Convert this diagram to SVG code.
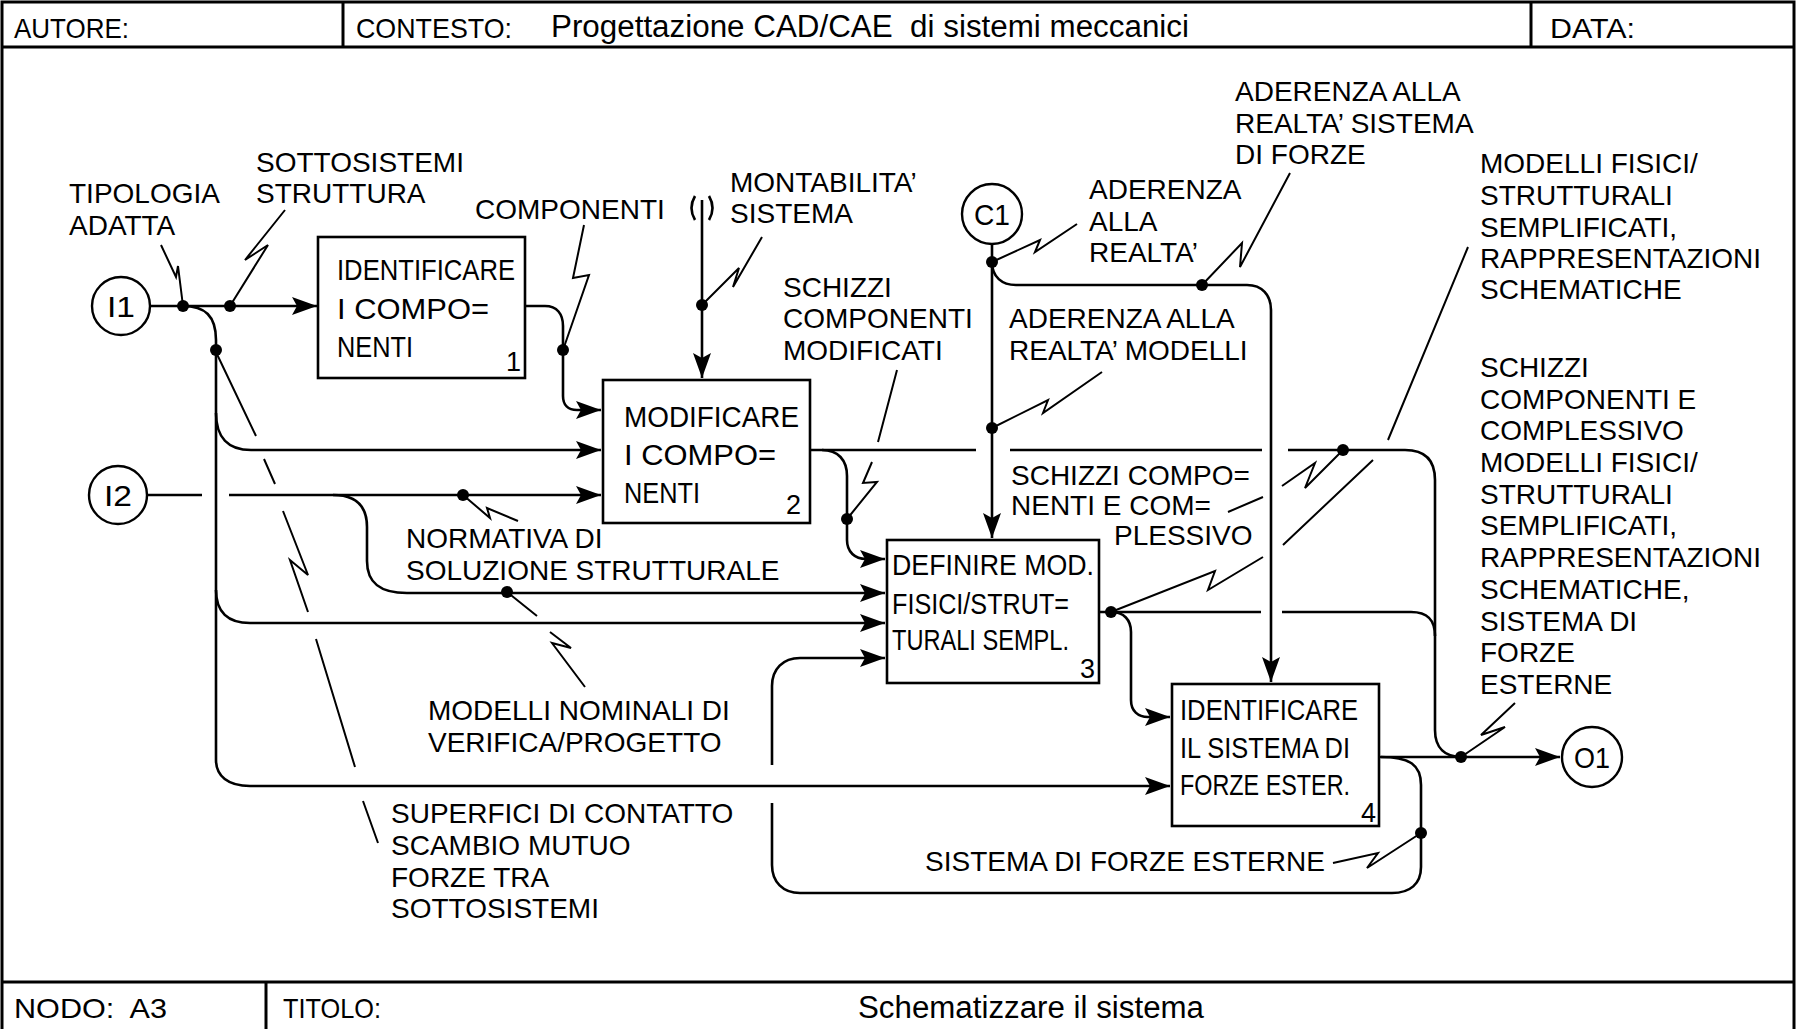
<svg xmlns="http://www.w3.org/2000/svg" width="1798" height="1029" viewBox="0 0 1798 1029">
<style>
.frame{fill:none;stroke:#000;stroke-width:3}
.box{fill:#fff;stroke:#000;stroke-width:2.6}
.bt{font-family:"Liberation Sans",Arial,sans-serif;font-size:29px;fill:#000}
.num{font-family:"Liberation Sans",Arial,sans-serif;font-size:27px;fill:#000}
.lbl{font-family:"Liberation Sans",Arial,sans-serif;font-size:28px;fill:#000}
.hd{font-family:"Liberation Sans",Arial,sans-serif;font-size:28px;fill:#000}
.big{font-family:"Liberation Sans",Arial,sans-serif;font-size:31px;fill:#000}
.ref{font-family:"Liberation Sans",Arial,sans-serif;font-size:30px;fill:#000;text-anchor:middle}
.circ{fill:#fff;stroke:#000;stroke-width:2.4}
.c{fill:none;stroke:#000;stroke-width:2.6}
.ca{fill:none;stroke:#000;stroke-width:2.6;marker-end:url(#ah)}
.ld{fill:none;stroke:#000;stroke-width:2;stroke-linejoin:miter}
.dot{fill:#000}
</style>
<defs>
<marker id="ah" markerUnits="userSpaceOnUse" markerWidth="28" markerHeight="20" refX="25" refY="9" orient="auto" overflow="visible">
<path d="M0,0 L25,9 L0,18 L5,9 Z" fill="#000"/>
</marker>
</defs>
<rect width="1798" height="1029" fill="#fff"/>
<g id="frame">
<rect class="frame" x="2" y="2" width="1792" height="1032"/>
<line class="frame" x1="2" y1="47" x2="1794" y2="47"/>
<line class="frame" x1="343" y1="2" x2="343" y2="47"/>
<line class="frame" x1="1531" y1="2" x2="1531" y2="47"/>
<line class="frame" x1="2" y1="982" x2="1794" y2="982"/>
<line class="frame" x1="266" y1="982" x2="266" y2="1029"/>
<text class="hd" x="14" y="38" textLength="115" lengthAdjust="spacingAndGlyphs">AUTORE:</text>
<text class="hd" x="356" y="38" textLength="156" lengthAdjust="spacingAndGlyphs">CONTESTO:</text>
<text class="big" x="551" y="37" textLength="638" lengthAdjust="spacingAndGlyphs">Progettazione CAD/CAE&#160; di sistemi meccanici</text>
<text class="hd" x="1550" y="38" textLength="85" lengthAdjust="spacingAndGlyphs">DATA:</text>
<text class="hd" x="14" y="1018" textLength="153" lengthAdjust="spacingAndGlyphs">NODO:&#160; A3</text>
<text class="hd" x="283" y="1018" textLength="98" lengthAdjust="spacingAndGlyphs">TITOLO:</text>
<text class="big" x="858" y="1018" textLength="346" lengthAdjust="spacingAndGlyphs">Schematizzare il sistema</text>
</g>
<g id="connectors">
<path class="ca" d="M151,306 H317"/>
<path class="ca" d="M183,306 C205,306 216,316 216,340 V760 C216,776 228,786 250,786 H1170"/>
<path class="ca" d="M216,413 C216,437 228,450 251,450 H601"/>
<path class="ca" d="M216,590 C216,612 228,623 250,623 H885"/>
<path class="c" d="M148,495 H202"/>
<path class="ca" d="M229,495 H601"/>
<path class="ca" d="M333,495 C355,495 367,505 367,527 V561 C367,583 380,593 407,593 H885"/>
<path class="ca" d="M525,306 H545 C557,306 563,314 563,326 V396 C563,405 568,410 577,410 H601"/>
<path class="c" d="M695,196 Q688,208 695,220 M709,196 Q716,208 709,220"/>
<path class="ca" d="M702,200 V378"/>
<path class="c" d="M810,450 H976 M1010,450 H1262 M1288,450 H1405 C1425,450 1435,460 1435,480 V730 C1435,748 1445,757 1462,757"/>
<path class="ca" d="M822,450 C838,450 847,460 847,476 V540 C847,552 855,559 866,559 H885"/>
<path class="ca" d="M992,244 V538"/>
<path class="ca" d="M992,262 C992,277 1002,285 1016,285 H1247 C1262,285 1271,295 1271,310 V682"/>
<path class="c" d="M1099,612 H1261 M1282,612 H1411 C1428,612 1435,620 1435,636"/>
<path class="ca" d="M1111,612 C1124,612 1131,620 1131,632 V700 C1131,711 1138,717 1148,717 H1170"/>
<path class="ca" d="M1379,757 H1560"/>
<path class="c" d="M1381,757 C1410,757 1421,765 1421,785 V867 C1421,884 1410,893 1392,893 H800 C783,893 772,882 772,865 V803"/>
<path class="ca" d="M772,765 V686 C772,669 783,658 800,658 H885"/>
<path class="ld" d="M161,245 L176,277 L178,266 L183,306"/>
<path class="ld" d="M285,210 L245,260 L268,245 L230,306"/>
<path class="ld" d="M584,225 L573,278 L589,275 L563,350"/>
<path class="ld" d="M762,237 L733,287 L739,268 L702,305"/>
<path class="ld" d="M897,370 L878,442 M872,462 L863,483 L877,482 L847,519"/>
<path class="ld" d="M463,495 L490,518 L487,508 L518,521"/>
<path class="ld" d="M507,592 L537,616 M550,632 L571,648 L552,643 L585,687"/>
<path class="ld" d="M215,350 L256,436 M264,459 L275,484 M283,511 L308,575 L290,560 L308,612 M316,639 L355,767 M363,801 L378,843"/>
<path class="ld" d="M992,262 L1040,240 L1035,252 L1077,224"/>
<path class="ld" d="M1202,285 L1242,243 L1240,267 L1290,173"/>
<path class="ld" d="M992,428 L1048,400 L1043,413 L1102,372"/>
<path class="ld" d="M1468,247 L1388,440 M1373,460 L1283,545 M1263,557 L1208,590 L1215,571 L1111,612"/>
<path class="ld" d="M1343,450 L1305,488 L1315,463 L1282,486 M1263,497 L1228,512"/>
<path class="ld" d="M1461,757 L1505,727 L1481,735 L1515,703"/>
<path class="ld" d="M1421,833 L1367,868 L1378,853 L1333,863"/>
<circle class="dot" cx="183" cy="306" r="6"/>
<circle class="dot" cx="230" cy="306" r="6"/>
<circle class="dot" cx="216" cy="350" r="6"/>
<circle class="dot" cx="563" cy="350" r="6"/>
<circle class="dot" cx="702" cy="305" r="6"/>
<circle class="dot" cx="463" cy="495" r="6"/>
<circle class="dot" cx="507" cy="592" r="6"/>
<circle class="dot" cx="847" cy="519" r="6"/>
<circle class="dot" cx="992" cy="262" r="6"/>
<circle class="dot" cx="1202" cy="285" r="6"/>
<circle class="dot" cx="992" cy="428" r="6"/>
<circle class="dot" cx="1343" cy="450" r="6"/>
<circle class="dot" cx="1111" cy="612" r="6"/>
<circle class="dot" cx="1461" cy="757" r="6"/>
<circle class="dot" cx="1421" cy="833" r="6"/>
</g>
<g id="I1"><circle class="circ" cx="121" cy="306" r="29"/><text class="ref" x="121" y="317" textLength="28" lengthAdjust="spacingAndGlyphs">I1</text></g>
<g id="I2"><circle class="circ" cx="118" cy="495" r="29"/><text class="ref" x="118" y="506" textLength="28" lengthAdjust="spacingAndGlyphs">I2</text></g>
<g id="C1"><circle class="circ" cx="992" cy="214" r="30"/><text class="ref" x="992" y="225" textLength="36" lengthAdjust="spacingAndGlyphs">C1</text></g>
<g id="O1"><circle class="circ" cx="1592" cy="757" r="30"/><text class="ref" x="1592" y="768" textLength="36" lengthAdjust="spacingAndGlyphs">O1</text></g>
<g id="box1">
<rect class="box" x="318" y="237" width="207" height="141"/>
<text class="bt" x="337" y="280" textLength="178" lengthAdjust="spacingAndGlyphs">IDENTIFICARE</text>
<text class="bt" x="337" y="319" textLength="152" lengthAdjust="spacingAndGlyphs">I COMPO=</text>
<text class="bt" x="337" y="357" textLength="76" lengthAdjust="spacingAndGlyphs">NENTI</text>
<text class="num" x="506" y="371">1</text>
</g>
<g id="box2">
<rect class="box" x="603" y="380" width="207" height="143"/>
<text class="bt" x="624" y="427" textLength="175" lengthAdjust="spacingAndGlyphs">MODIFICARE</text>
<text class="bt" x="624" y="465" textLength="152" lengthAdjust="spacingAndGlyphs">I COMPO=</text>
<text class="bt" x="624" y="503" textLength="76" lengthAdjust="spacingAndGlyphs">NENTI</text>
<text class="num" x="786" y="514">2</text>
</g>
<g id="box3">
<rect class="box" x="887" y="540" width="212" height="143"/>
<text class="bt" x="892" y="575" textLength="202" lengthAdjust="spacingAndGlyphs">DEFINIRE MOD.</text>
<text class="bt" x="892" y="614" textLength="177" lengthAdjust="spacingAndGlyphs">FISICI/STRUT=</text>
<text class="bt" x="892" y="650" textLength="177" lengthAdjust="spacingAndGlyphs">TURALI SEMPL.</text>
<text class="num" x="1080" y="678">3</text>
</g>
<g id="box4">
<rect class="box" x="1172" y="684" width="207" height="142"/>
<text class="bt" x="1180" y="720" textLength="178" lengthAdjust="spacingAndGlyphs">IDENTIFICARE</text>
<text class="bt" x="1180" y="758" textLength="170" lengthAdjust="spacingAndGlyphs">IL SISTEMA DI</text>
<text class="bt" x="1180" y="795" textLength="170" lengthAdjust="spacingAndGlyphs">FORZE ESTER.</text>
<text class="num" x="1361" y="822">4</text>
</g>
<g id="labels">
<text class="lbl" x="69" y="203">TIPOLOGIA</text>
<text class="lbl" x="69" y="235">ADATTA</text>
<text class="lbl" x="256" y="172">SOTTOSISTEMI</text>
<text class="lbl" x="256" y="203">STRUTTURA</text>
<text class="lbl" x="475" y="219">COMPONENTI</text>
<text class="lbl" x="730" y="192">MONTABILITA’</text>
<text class="lbl" x="730" y="223">SISTEMA</text>
<text class="lbl" x="783" y="297">SCHIZZI</text>
<text class="lbl" x="783" y="328">COMPONENTI</text>
<text class="lbl" x="783" y="360">MODIFICATI</text>
<text class="lbl" x="1235" y="101">ADERENZA ALLA</text>
<text class="lbl" x="1235" y="133">REALTA’ SISTEMA</text>
<text class="lbl" x="1235" y="164">DI FORZE</text>
<text class="lbl" x="1089" y="199">ADERENZA</text>
<text class="lbl" x="1089" y="231">ALLA</text>
<text class="lbl" x="1089" y="262">REALTA’</text>
<text class="lbl" x="1480" y="173">MODELLI FISICI/</text>
<text class="lbl" x="1480" y="205">STRUTTURALI</text>
<text class="lbl" x="1480" y="237">SEMPLIFICATI,</text>
<text class="lbl" x="1480" y="268">RAPPRESENTAZIONI</text>
<text class="lbl" x="1480" y="299">SCHEMATICHE</text>
<text class="lbl" x="1009" y="328">ADERENZA ALLA</text>
<text class="lbl" x="1009" y="360">REALTA’ MODELLI</text>
<text class="lbl" x="1480" y="377">SCHIZZI</text>
<text class="lbl" x="1480" y="409">COMPONENTI E</text>
<text class="lbl" x="1480" y="440">COMPLESSIVO</text>
<text class="lbl" x="1480" y="472">MODELLI FISICI/</text>
<text class="lbl" x="1480" y="504">STRUTTURALI</text>
<text class="lbl" x="1480" y="535">SEMPLIFICATI,</text>
<text class="lbl" x="1480" y="567">RAPPRESENTAZIONI</text>
<text class="lbl" x="1480" y="599">SCHEMATICHE,</text>
<text class="lbl" x="1480" y="631">SISTEMA DI</text>
<text class="lbl" x="1480" y="662">FORZE</text>
<text class="lbl" x="1480" y="694">ESTERNE</text>
<text class="lbl" x="1011" y="485">SCHIZZI COMPO=</text>
<text class="lbl" x="1011" y="515">NENTI E COM=</text>
<text class="lbl" x="1114" y="545">PLESSIVO</text>
<text class="lbl" x="406" y="548">NORMATIVA DI</text>
<text class="lbl" x="406" y="580">SOLUZIONE STRUTTURALE</text>
<text class="lbl" x="428" y="720">MODELLI NOMINALI DI</text>
<text class="lbl" x="428" y="752">VERIFICA/PROGETTO</text>
<text class="lbl" x="391" y="823">SUPERFICI DI CONTATTO</text>
<text class="lbl" x="391" y="855">SCAMBIO MUTUO</text>
<text class="lbl" x="391" y="887">FORZE TRA</text>
<text class="lbl" x="391" y="918">SOTTOSISTEMI</text>
<text class="lbl" x="925" y="871">SISTEMA DI FORZE ESTERNE</text>
</g>
</svg>
